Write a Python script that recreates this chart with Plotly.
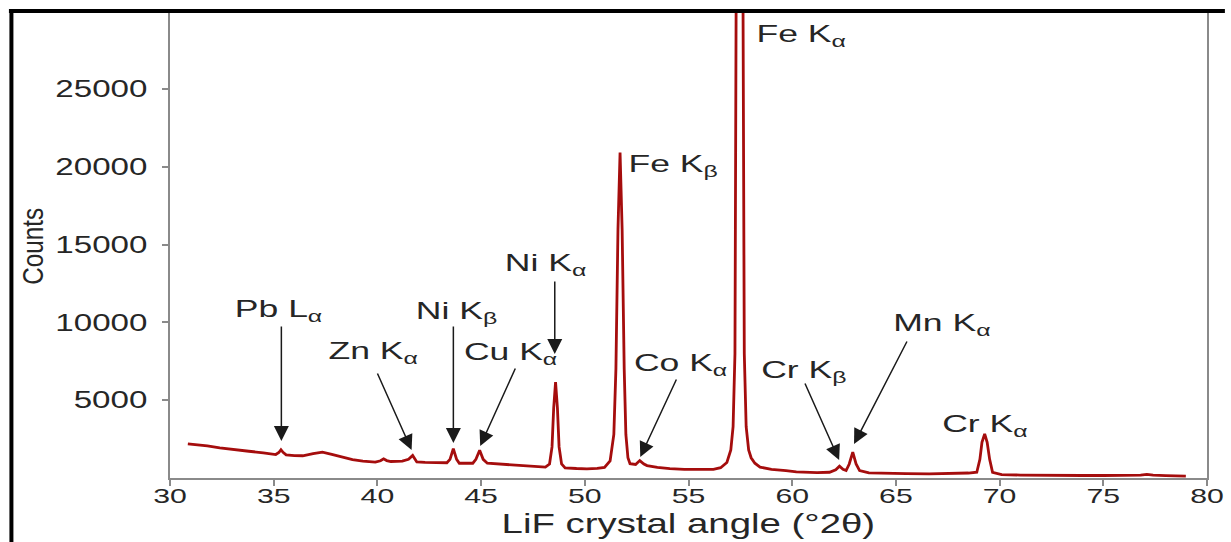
import plotly.graph_objects as go

# ---- data ----
angle = [30.86, 31.3, 31.8, 32.4, 33.0, 33.8, 34.5, 35.1, 35.25, 35.35, 35.45, 35.6,
         36.0, 36.4, 36.9, 37.35, 37.8, 38.3, 38.8, 39.3, 39.9, 40.15, 40.3, 40.45,
         40.65, 41.2, 41.5, 41.7, 41.9, 42.3, 42.8, 43.35, 43.5, 43.66, 43.82, 43.95,
         44.6, 44.75, 44.93, 45.1, 45.3, 45.8, 46.4, 46.9, 47.5, 48.1, 48.3, 48.42,
         48.5, 48.59, 48.68, 48.76, 48.88, 49.05, 49.6, 50.1, 50.6, 50.95, 51.22, 51.4,
         51.5, 51.6, 51.7, 51.8, 51.9, 51.98, 52.08, 52.18, 52.45, 52.65, 52.85,
         53.0, 53.5, 54.1, 54.8, 55.7, 56.2, 56.55, 56.85, 57.04, 57.15, 57.24, 57.3,
         57.47, 57.63, 57.69, 57.78, 57.9, 58.02, 58.2, 58.45, 59.0, 59.7, 60.2, 61.2,
         61.8, 62.1, 62.28, 62.45, 62.6, 62.75, 62.92, 63.08, 63.25, 63.7, 64.5, 65.5,
         66.6, 67.6, 68.5, 68.9, 69.05, 69.15, 69.28, 69.4, 69.52, 69.66, 70.1, 71.0,
         72.0, 73.0, 74.0, 75.0, 76.0, 76.8, 77.1, 77.4, 78.0, 78.98]
counts = [2200, 2150, 2060, 1940, 1830, 1720, 1620, 1510, 1640, 1820, 1650, 1490,
          1440, 1430, 1560, 1660, 1520, 1340, 1180, 1080, 1020, 1110, 1230, 1120,
          1060, 1080, 1200, 1450, 1030, 1000, 980, 980, 1200, 1880, 1200, 950,
          950, 1200, 1780, 1200, 950, 910, 850, 800, 750, 700, 900, 2000,
          4500, 6160, 4500, 2000, 900, 650, 610, 590, 620, 680, 1100, 2800,
          7000, 16000, 20930, 16000, 7000, 2800, 1300, 920, 870, 1120, 900,
          800, 680, 600, 560, 530, 560, 660, 1000, 1800, 3300, 8000, 30000,
          100000, 30000, 8000, 3300, 1800, 1300, 950, 700, 560, 480, 400, 340,
          370, 530, 760, 560, 480, 900, 1660, 900, 480, 330, 290, 280,
          270, 280, 320, 370, 1200, 2300, 2840, 2300, 1200, 370, 220, 190,
          170, 160, 160, 160, 160, 180, 230, 180, 150, 120]

x_ticks = [30, 35, 40, 45, 50, 55, 60, 65, 70, 75, 80]
y_ticks = [5000, 10000, 15000, 20000, 25000]
y_tick_text = ["5000", "10000", "15000", "20000", "25000"]

peak_labels = ["Pb L<sub>α</sub>", "Zn K<sub>α</sub>", "Ni K<sub>β</sub>", "Cu K<sub>α</sub>",
               "Ni K<sub>α</sub>", "Fe K<sub>β</sub>", "Fe K<sub>α</sub>", "Co K<sub>α</sub>",
               "Cr K<sub>β</sub>", "Mn K<sub>α</sub>", "Cr K<sub>α</sub>"]

# ---- layout geometry (pixels) ----
W, H = 1231, 542
L, R, T, B = 170, 18, 13, 64
PW, PH = W - L - R, H - T - B
XMIN, XMAX, YMAX = 30, 80, 29900

def px2x(px):
    return XMIN + (px - L) / PW * (XMAX - XMIN)

def py2y(py):
    return (H - B - py) / PH * YMAX

def ppx(px):
    return (px - L) / PW

def ppy(py):
    return (H - B - py) / PH

FONT = "Liberation Sans, Arial, Helvetica, sans-serif"
TXT = "#262626"
AX = "#8a8a8a"

fig = go.Figure()
fig.add_trace(go.Scatter(x=angle, y=counts, mode="lines",
                         line=dict(color="#a50d0d", width=2.8),
                         hoverinfo="skip", showlegend=False))

# label positions: centre px, cap-centre py
label_pos = [(279, 308), (375, 350), (458, 310), (512, 351), (548, 262), (676, 163),
             (805, 34), (683, 362), (808, 370), (946, 322), (990, 423)]
ann = []
for txt, (lx, ly) in zip(peak_labels, label_pos):
    ann.append(dict(text=txt, x=ppx(lx), y=ppy(ly + 2), xref="paper", yref="paper",
                    xanchor="center", yanchor="middle", showarrow=False,
                    font=dict(family=FONT, size=24, color=TXT)))

# arrows: (tail px, tail py, tip px, tip py)
arrows = [(282, 325, 282, 441), (378, 372, 413, 450), (455, 325, 455, 443),
          (518, 367, 482, 446), (557, 280, 557, 354), (680, 378, 643, 457),
          (808, 382, 843, 460), (912, 340, 858, 444)]
for tx, ty, hx, hy in arrows:
    ann.append(dict(text="", x=px2x(hx), y=py2y(hy), ax=px2x(tx), ay=py2y(ty),
                    xref="x", yref="y", axref="x", ayref="y", showarrow=True,
                    arrowhead=2, arrowsize=2, arrowwidth=1.5, arrowcolor="#1a1a1a",
                    standoff=0, startstandoff=0))

ann.append(dict(text="LiF crystal angle (°2θ)", x=ppx(691), y=ppy(523), xref="paper",
                yref="paper", xanchor="center", yanchor="middle", showarrow=False,
                font=dict(family=FONT, size=28, color=TXT)))
ann.append(dict(text="Counts", x=ppx(31), y=ppy(246), xref="paper", yref="paper",
                xanchor="center", yanchor="middle", showarrow=False, textangle=-90,
                font=dict(family=FONT, size=30, color=TXT)))

shapes = [
    dict(type="line", xref="paper", yref="paper", x0=ppx(8), x1=ppx(1231),
         y0=ppy(11), y1=ppy(11), line=dict(color="black", width=4)),
    dict(type="line", xref="paper", yref="paper", x0=ppx(10.5), x1=ppx(10.5),
         y0=ppy(9), y1=ppy(542), line=dict(color="black", width=4)),
]

fig.update_layout(
    width=W, height=H, autosize=False,
    margin=dict(l=L, r=R, t=T, b=B, pad=0),
    paper_bgcolor="white", plot_bgcolor="white",
    font=dict(family=FONT, color=TXT),
    annotations=ann, shapes=shapes, showlegend=False,
    xaxis=dict(range=[XMIN, XMAX], tickvals=x_ticks, ticks="outside", ticklen=6,
               tickwidth=2, tickcolor=AX, showline=True, linecolor=AX, linewidth=2,
               mirror=False, showgrid=False, zeroline=False, ticklabelstandoff=-8,
               tickfont=dict(family=FONT, size=21, color=TXT)),
    yaxis=dict(range=[0, YMAX], tickvals=y_ticks, ticktext=y_tick_text, ticks="outside",
               ticklen=6, tickwidth=2, tickcolor=AX, showline=True, linecolor=AX,
               linewidth=2, mirror=True, showgrid=False, zeroline=False,
               ticklabelstandoff=10,
               tickfont=dict(family=FONT, size=23, color=TXT)),
)

# The reference's lettering is drawn wide (horizontally stretched); widen the
# real SVG text with textLength so it keeps being text.
post = """
(function(){
  var gd = document.getElementById('{plot_id}');
  function stretch(){
    var texts = gd.querySelectorAll('svg text');
    texts.forEach(function(t){
      if (t.getAttribute('data-st')) return;
      var s = (t.textContent || '').trim();
      if (!s) return;
      var w = t.getComputedTextLength();
      if (!(w > 0)) return;
      var target;
      if (s === 'Counts') { target = 77; }
      else if (s.indexOf('LiF') === 0) { target = w * 1.37; }
      else if (/^[0-9]+$/.test(s)) { target = w * 1.44; }
      else { target = w * 1.48; }
      t.setAttribute('textLength', target.toFixed(1));
      t.setAttribute('lengthAdjust', 'spacingAndGlyphs');
      t.setAttribute('data-st', '1');
    });
  }
  stretch();
  if (gd.on) gd.on('plotly_afterplot', stretch);
  setTimeout(stretch, 50);
  setTimeout(stretch, 300);
})();
"""

fig.write_html("out.html", post_script=post)
